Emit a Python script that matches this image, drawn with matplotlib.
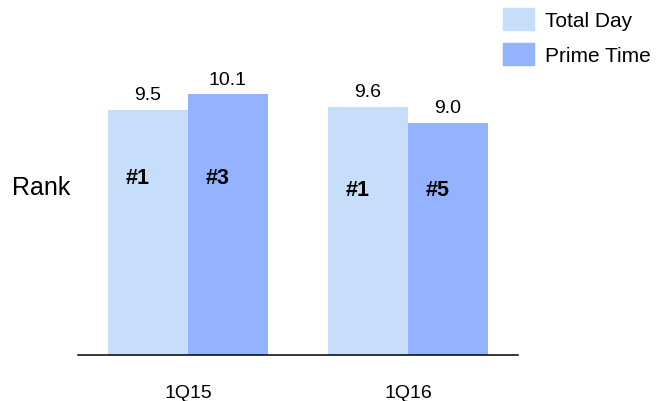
import matplotlib.pyplot as plt
import matplotlib.patches as mpatches
import numpy as np

plt.rcParams['font.family'] = ['Liberation Sans', 'DejaVu Sans']

quarters = ['1Q15', '1Q16']
series = ['Total Day', 'Prime Time']
total_day = [9.5, 9.6]
prime_time = [10.1, 9.0]
total_rank = ['#1', '#1']
prime_rank = ['#3', '#5']
colors = ['#C6DEFA', '#94B2FE']

fig = plt.figure(figsize=(6.56, 4.02), dpi=100)
ax = fig.add_axes([78 / 656, 46 / 402, 440 / 656, 356 / 402])

x = np.arange(len(quarters))
w = 80 / 220

b1 = ax.bar(x - w / 2, total_day, w, color=colors[0], label=series[0])
b2 = ax.bar(x + w / 2, prime_time, w, color=colors[1], label=series[1])

for bars, vals in [(b1, total_day), (b2, prime_time)]:
    for bar, v in zip(bars, vals):
        ax.annotate(f'{v:.1f}', (bar.get_x() + bar.get_width() / 2, v),
                    xytext=(0, 5), textcoords='offset points',
                    ha='center', va='bottom', fontsize=14)

# rank labels sit lower in the second group
rank_y = [6.88, 6.42]
for bars, ranks in [(b1, total_rank), (b2, prime_rank)]:
    for i, (bar, r) in enumerate(zip(bars, ranks)):
        ax.text(bar.get_x() + bar.get_width() / 2 - 10 / 220, rank_y[i], r,
                ha='center', va='center', fontsize=15.5, fontweight='bold')

ax.set_xlim(-0.5, 1.5)
ax.set_ylim(0, 13.8)
ax.set_xticks(x)
ax.set_xticklabels(quarters, fontsize=14)
ax.tick_params(axis='x', length=0, pad=21)
ax.set_yticks([])
for s in ['top', 'right', 'left']:
    ax.spines[s].set_visible(False)
ax.spines['bottom'].set_linewidth(1.1)

fig.text(12 / 656, 1 - 188 / 402, 'Rank', fontsize=18, va='center', ha='left')

handles = [mpatches.Patch(color=c) for c in colors]
fig.legend(handles, series, loc='upper left', bbox_to_anchor=(495 / 656, 1 - 1 / 402),
           frameon=False, fontsize=15, handlelength=1.45, handleheight=1.25,
           handletextpad=0.55, labelspacing=0.62, borderaxespad=0)

fig.savefig('out.png', dpi=100)
